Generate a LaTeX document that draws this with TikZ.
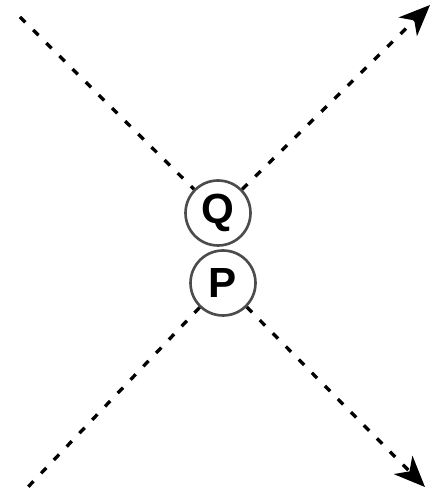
\documentclass[tikz,border=0pt]{standalone}
\usepackage{fontspec}
\setmainfont{Liberation Sans}
\usetikzlibrary{arrows.meta,positioning}

\begin{document}
\begin{tikzpicture}[x=0.02cm,y=-0.02cm,>={Stealth[length=0.62cm,width=0.52cm,inset=0.18cm]}, every node/.style={font=\fontsize{24}{28}\selectfont\bfseries}]
\tikzstyle{ball}=[draw=black!70,circle,line width=1.5pt,minimum size=1.3cm,inner sep=0pt]
\tikzstyle{ray}=[line width=1.9pt,dash pattern=on 0.15cm off 0.22cm]
\useasboundingbox (0,0) rectangle (442,492);
\node[ball] (q) at (218,213) {Q};
\node[ball] (p) at (223,283) {P};
\coordinate (tl) at (20,17);
\coordinate (tr) at (430,5);
\coordinate (bl) at (28,487);
\coordinate (br) at (425,487);
\draw[ray] (tl) -- (q);
\draw[ray,->] (q) -- (tr);
\draw[ray] (p) -- (bl);
\draw[ray,->] (p) -- (br);
\end{tikzpicture}
\end{document}
